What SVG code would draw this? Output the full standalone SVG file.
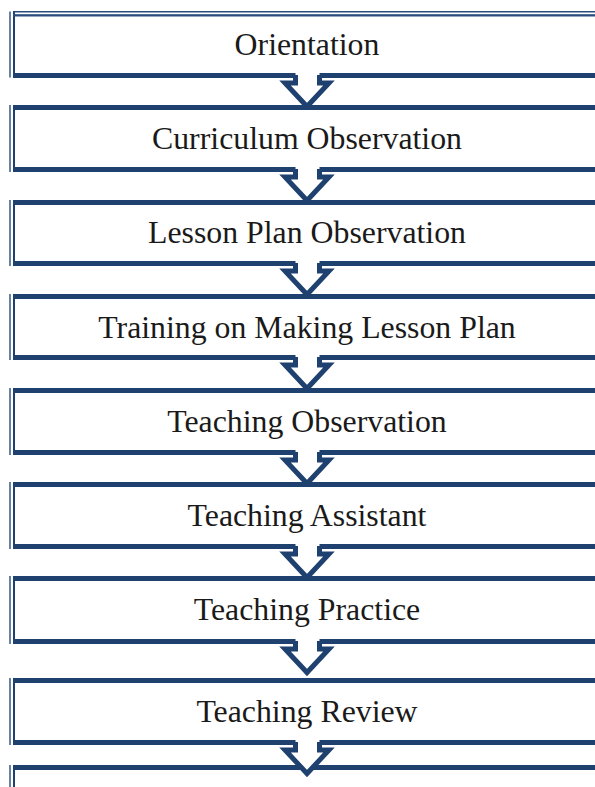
<svg xmlns="http://www.w3.org/2000/svg" xmlns:xlink="http://www.w3.org/1999/xlink" width="595" height="787" viewBox="0 0 595 787">
<style>
.band{fill:#1F4170}
.thin{fill:#2A4C7C}
.lbl{font-family:"Liberation Serif","Times New Roman",serif;font-size:31.8px;fill:#1a1a1a;text-anchor:middle}
.af{fill:#fff;stroke:none}
.as{fill:none;stroke:#1F4170;stroke-width:5;stroke-linejoin:miter;stroke-miterlimit:10}
</style>
<defs>
<g id="arr">
<polygon class="af" points="295.5,-6 295.5,5 285,5 307,28.5 329,5 319.5,5 319.5,-6"/>
<polyline class="as" points="295.5,-3 295.5,5 285,5 307,28.5 329,5 319.5,5 319.5,-3"/>
</g>
</defs>
<rect width="595" height="787" fill="#fff"/>
<g id="n1">
<rect class="thin" x="9.3" y="11.5" width="1.4" height="66"/>
<rect class="band" x="13" y="11.5" width="2" height="66.5"/>
<rect class="thin" x="13" y="11" width="582" height="1.5"/>
<rect class="thin" x="13" y="14.2" width="582" height="2.3"/>
<rect class="band" x="13" y="73" width="582" height="5"/>
<text class="lbl" x="307" y="55">Orientation</text>
</g>
<g id="n2">
<rect class="thin" x="9.3" y="105" width="1.4" height="67"/>
<rect class="band" x="13" y="105" width="2" height="67"/>
<rect class="band" x="13" y="105" width="582" height="5"/>
<rect class="band" x="13" y="167" width="582" height="5"/>
<text class="lbl" x="307" y="149">Curriculum Observation</text>
</g>
<g id="n3">
<rect class="thin" x="9.3" y="200" width="1.4" height="66"/>
<rect class="band" x="13" y="200" width="2" height="66"/>
<rect class="band" x="13" y="200" width="582" height="5"/>
<rect class="band" x="13" y="261" width="582" height="5"/>
<text class="lbl" x="307" y="243">Lesson Plan Observation</text>
</g>
<g id="n4">
<rect class="thin" x="9.3" y="294" width="1.4" height="66"/>
<rect class="band" x="13" y="294" width="2" height="66"/>
<rect class="band" x="13" y="294" width="582" height="5"/>
<rect class="band" x="13" y="355" width="582" height="5"/>
<text class="lbl" x="307" y="338">Training on Making Lesson Plan</text>
</g>
<g id="n5">
<rect class="thin" x="9.3" y="388" width="1.4" height="67"/>
<rect class="band" x="13" y="388" width="2" height="67"/>
<rect class="band" x="13" y="388" width="582" height="5"/>
<rect class="band" x="13" y="450" width="582" height="5"/>
<text class="lbl" x="307" y="432">Teaching Observation</text>
</g>
<g id="n6">
<rect class="thin" x="9.3" y="482" width="1.4" height="67"/>
<rect class="band" x="13" y="482" width="2" height="67"/>
<rect class="band" x="13" y="482" width="582" height="5"/>
<rect class="band" x="13" y="544" width="582" height="5"/>
<text class="lbl" x="307" y="526">Teaching Assistant</text>
</g>
<g id="n7">
<rect class="thin" x="9.3" y="576" width="1.4" height="68"/>
<rect class="band" x="13" y="576" width="2" height="68"/>
<rect class="band" x="13" y="576" width="582" height="5"/>
<rect class="band" x="13" y="639" width="582" height="5"/>
<text class="lbl" x="307" y="620">Teaching Practice</text>
</g>
<g id="n8">
<rect class="thin" x="9.3" y="678" width="1.4" height="67"/>
<rect class="band" x="13" y="678" width="2" height="67"/>
<rect class="band" x="13" y="678" width="582" height="5"/>
<rect class="band" x="13" y="740" width="582" height="5"/>
<text class="lbl" x="307" y="722">Teaching Review</text>
</g>
<g id="n9">
<rect class="thin" x="9.3" y="765" width="1.4" height="22"/>
<rect class="band" x="13" y="765" width="2" height="22"/>
<rect class="band" x="13" y="765" width="582" height="5"/>
</g>
<g id="connectors">
<use xlink:href="#arr" transform="translate(0,78)"/>
<use xlink:href="#arr" transform="translate(0,172)"/>
<use xlink:href="#arr" transform="translate(0,266)"/>
<use xlink:href="#arr" transform="translate(0,360)"/>
<use xlink:href="#arr" transform="translate(0,455)"/>
<use xlink:href="#arr" transform="translate(0,549)"/>
<use xlink:href="#arr" transform="translate(0,644)"/>
<use xlink:href="#arr" transform="translate(0,745)"/>
</g>
</svg>
